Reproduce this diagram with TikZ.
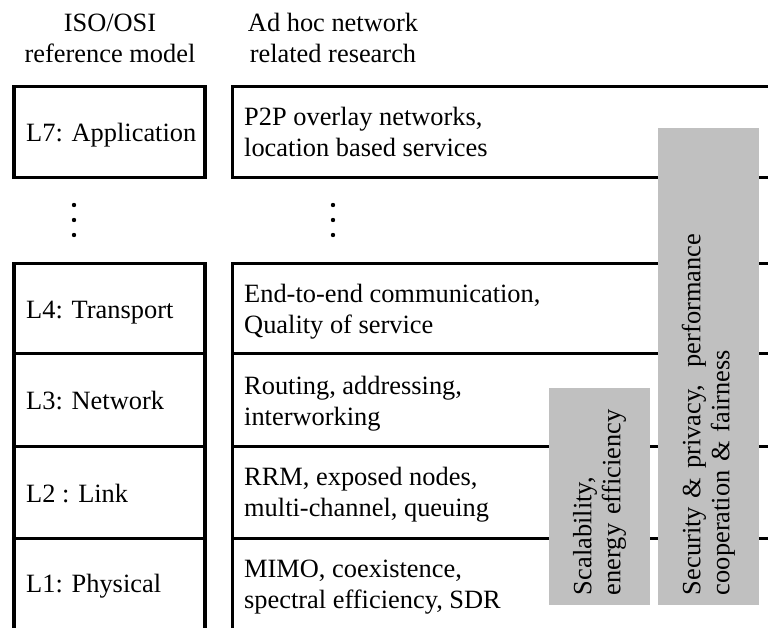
\documentclass[tikz,border=0pt]{standalone}
\usepackage{fontspec}
\setmainfont{Liberation Serif}
\definecolor{bargray}{RGB}{192,192,192}
\begin{document}
\begin{tikzpicture}[x=1pt,y=-1pt,
  frame/.style={line width=3.5pt, line join=miter},
  txt/.style={font=\fontsize{26.4}{31}\selectfont, inner sep=0pt},
  head/.style={txt, align=center, anchor=base},
  layer/.style={txt, anchor=base west},
  topic/.style={txt, align=left, anchor=base west},
  bar/.style={fill=bargray, draw=none, rotate=90, inner xsep=10pt, inner ysep=0pt,
    align=left, font=\fontsize{26.4}{29}\selectfont},
  dot/.style={circle, fill=black, inner sep=0pt, minimum size=4.4pt}
]
\useasboundingbox (0,0) rectangle (768,628);

% column headings (anchored at the baseline of their second line)
\node[head] (hiso) at (110,63) {ISO/OSI\\reference model};
\node[head] (hadhoc) at (333,63) {Ad hoc network\\related research};

% ISO/OSI layer frames (left column)
\draw[frame] (14,86.5) rectangle (205,177.5);
\draw[frame] (14,628) -- (14,263.5) -- (205,263.5) -- (205,628);
\foreach \yy in {353.5,446.5,538.5}
  \draw[frame] (14,\yy) -- (205,\yy);

% research frames (right column, open to the right)
\draw[frame] (768,86.5) -- (232.5,86.5) -- (232.5,177.5) -- (768,177.5);
\draw[frame] (768,263.5) -- (232.5,263.5) -- (232.5,628);
\foreach \yy in {353.5,446.5,538.5}
  \draw[frame] (232.5,\yy) -- (768,\yy);

% layer names
\node[layer] (l7) at (26,141.5) {L7: Application};
\node[layer] (l4) at (26,318) {L4: Transport};
\node[layer] (l3) at (26,409.5) {L3: Network};
\node[layer] (l2) at (26,502) {L2 : Link};
\node[layer] (l1) at (26,592.5) {L1: Physical};

% research topics per layer (anchored at the baseline of their second line)
\node[topic] (t7) at (244,156.5) {P2P overlay networks,\\location based services};
\node[topic] (t4) at (244,333) {End-to-end communication,\\Quality of service};
\node[topic] (t3) at (244,425) {Routing, addressing,\\interworking};
\node[topic] (t2) at (244,516) {RRM, exposed nodes,\\multi-channel, queuing};
\node[topic] (t1) at (244,608) {MIMO, coexistence,\\spectral efficiency, SDR};

% omitted layers
\foreach \yy [count=\i] in {205,220,235} {
  \node[dot] (dl\i) at (74,\yy) {};
  \node[dot] (dr\i) at (333,\yy) {};
}

% cross-layer concerns
\node[bar, minimum width=477pt, minimum height=101pt, text width=457pt] (sec)
  at (708.5,366.5) {Security \& privacy,\ \ performance\\cooperation \& fairness};
\node[bar, minimum width=217pt, minimum height=101pt, text width=197pt] (scal)
  at (599.5,496.5) {Scalability,\\energy efficiency};
\end{tikzpicture}
\end{document}
